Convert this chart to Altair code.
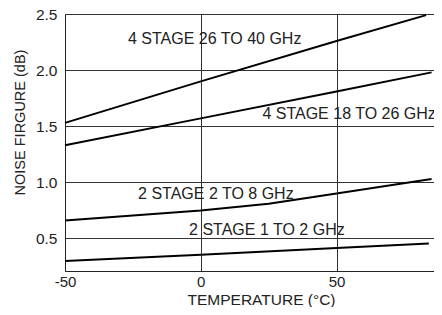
import altair as alt
import pandas as pd

# Data
series_names = ["4 STAGE 26 TO 40 GHz", "4 STAGE 18 TO 26 GHz", "2 STAGE 2 TO 8 GHz", "2 STAGE 1 TO 2 GHz"]
s1_temp = [-50, 0, 50, 83]
s1_nf = [1.53, 1.90, 2.26, 2.49]
s2_temp = [-50, 0, 50, 85]
s2_nf = [1.33, 1.57, 1.81, 1.98]
s3_temp = [-50, 0, 25, 50, 85]
s3_nf = [0.66, 0.75, 0.81, 0.90, 1.03]
s4_temp = [-50, 0, 50, 84]
s4_nf = [0.30, 0.355, 0.415, 0.455]

label_text = ["4 STAGE 26 TO 40 GHz", "4 STAGE 18 TO 26 GHz", "2 STAGE 2 TO 8 GHz", "2 STAGE 1 TO 2 GHz"]
label_x = [-26.8, 22.7, -23.1, -4.3]
label_y = [2.28, 1.607, 0.895, 0.575]

x_ticks = [-50, 0, 50]
y_ticks = [0.5, 1.0, 1.5, 2.0, 2.5]

rows = []
for name, ts, vs in zip(series_names, [s1_temp, s2_temp, s3_temp, s4_temp], [s1_nf, s2_nf, s3_nf, s4_nf]):
    for t, v in zip(ts, vs):
        rows.append({"series": name, "temp": t, "nf": v})
df = pd.DataFrame(rows)
labels = pd.DataFrame({"text": label_text, "temp": label_x, "nf": label_y})

FONT = "Liberation Sans"
xscale = alt.Scale(domain=[-50, 85.9], nice=False, zero=False)
yscale = alt.Scale(domain=[0.21, 2.5], nice=False, zero=False)

x_axis = alt.Axis(values=x_ticks, title="TEMPERATURE (°C)", grid=True, ticks=False,
                  labelPadding=3, labelFlush=False, labelExpr="'' + datum.value",
                  labelFontSize=15, titleFontSize=15.5, titleX=196, titleY=33,
                  titleBaseline="alphabetic", titleAnchor="middle")
y_axis = alt.Axis(values=y_ticks, title="NOISE FIRGURE (dB)", grid=True, ticks=False,
                  labelPadding=8, labelFlush=False, format=".1f", labelFontSize=15.5,
                  titleFontSize=14.5, titleX=-45, titleY=108, titleBaseline="middle",
                  titleAngle=270, titleAnchor="middle")

lines = alt.Chart(df).mark_line(color="black", strokeWidth=2).encode(
    x=alt.X("temp:Q", scale=xscale, axis=x_axis),
    y=alt.Y("nf:Q", scale=yscale, axis=y_axis),
    detail="series:N",
)

texts = alt.Chart(labels).mark_text(align="left", baseline="middle", font=FONT,
                                    fontSize=16, color="#222").encode(
    x=alt.X("temp:Q", scale=xscale),
    y=alt.Y("nf:Q", scale=yscale),
    text="text:N",
)

chart = alt.layer(lines, texts).properties(
    width=369, height=257,
    autosize=alt.AutoSizeParams(type="none"),
    padding={"left": 57, "top": 6, "right": 0, "bottom": 36},
).configure_view(stroke=None).configure_axis(
    gridColor="#333", gridWidth=1, gridOpacity=1,
    domainColor="#222", domainWidth=1,
    labelFont=FONT, titleFont=FONT,
    labelColor="#222", titleColor="#222", titleFontWeight="normal",
)

chart.save("out.html", embed_options={"renderer": "svg", "actions": False})
